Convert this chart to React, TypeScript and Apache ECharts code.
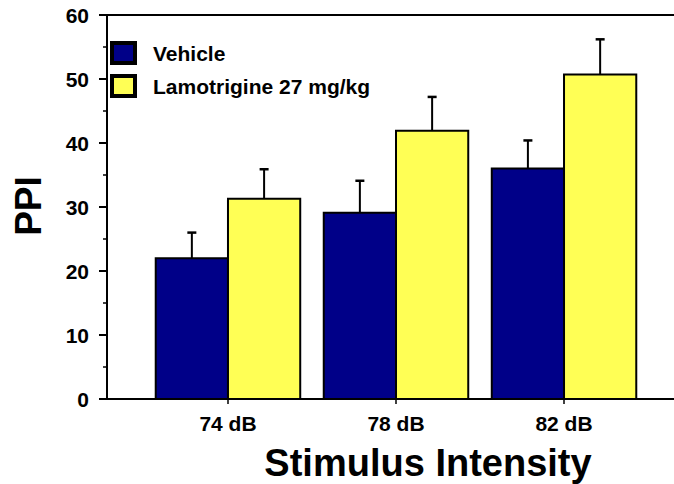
import React, { useEffect, useRef } from "react";
import * as echarts from "echarts";

const categories = ["74 dB", "78 dB", "82 dB"];
const seriesNames = ["Vehicle", "Lamotrigine 27 mg/kg"];
const vehicleMeans = [22, 29.1, 36];
const vehicleErrors = [4, 5, 4.4];
const lamotrigineMeans = [31.3, 41.9, 50.7];
const lamotrigineErrors = [4.6, 5.3, 5.5];
const yTicks = [0, 10, 20, 30, 40, 50, 60];

const FONT = "'Liberation Sans', Arial, sans-serif";
const COLORS = ["#000088", "#FFFF55"];
const BW = 0.43;

function makeRender(side: number) {
  return (params: any, api: any) => {
    const x = api.value(0);
    const v = api.value(1);
    const e = api.value(2);
    const x0 = side < 0 ? x - BW : x;
    const x1 = side < 0 ? x : x + BW;
    const pl = api.coord([x0, 0]);
    const pr = api.coord([x1, v]);
    const pe = api.coord([x, v + e]);
    const cx = (pl[0] + pr[0]) / 2;
    return {
      type: "group",
      children: [
        {
          type: "line",
          shape: { x1: cx, y1: pr[1], x2: cx, y2: pe[1] },
          style: { stroke: "#000", lineWidth: 2 },
        },
        {
          type: "line",
          shape: { x1: cx - 4.5, y1: pe[1], x2: cx + 4.5, y2: pe[1] },
          style: { stroke: "#000", lineWidth: 2.5 },
        },
        {
          type: "rect",
          shape: { x: pl[0], y: pr[1], width: pr[0] - pl[0], height: pl[1] - pr[1] },
          style: { fill: COLORS[side < 0 ? 0 : 1], stroke: "#000", lineWidth: 2 },
        },
      ],
    };
  };
}

export default function App() {
  const ref = useRef<HTMLDivElement>(null);
  useEffect(() => {
    const chart = echarts.init(ref.current!, null, { renderer: "svg" });
    const catPos = categories.map((_, i) => i + 1);
    chart.setOption({
      animation: false,
      backgroundColor: "#fff",
      grid: {
        left: 107,
        top: 15,
        width: 578,
        height: 384,
        show: true,
        containLabel: false,
        outerBoundsMode: "none",
        borderColor: "#000",
        borderWidth: 2,
        backgroundColor: "transparent",
      },
      xAxis: {
        type: "value",
        min: 0.28,
        max: 3.72,
        splitLine: { show: false },
        axisLine: { show: true, lineStyle: { color: "#000", width: 2 } },
        axisTick: {
          show: true,
          customValues: catPos,
          length: 5,
          lineStyle: { color: "#000", width: 1.5 },
        },
        axisLabel: {
          customValues: catPos,
          formatter: (v: number) => categories[Math.round(v) - 1] ?? "",
          margin: 14,
          color: "#000",
          fontFamily: FONT,
          fontWeight: "bold",
          fontSize: 21,
        },
      },
      yAxis: {
        type: "value",
        min: 0,
        max: 60,
        interval: 10,
        splitLine: { show: false },
        axisLine: { show: true, lineStyle: { color: "#000", width: 2 } },
        axisTick: { show: true, length: 8, lineStyle: { color: "#000", width: 2 } },
        minorTick: { show: true, splitNumber: 2, length: 4, lineStyle: { color: "#000", width: 1.5 } },
        axisLabel: {
          margin: 18,
          color: "#000",
          fontFamily: FONT,
          fontWeight: "bold",
          fontSize: 21,
          formatter: (v: number) => (yTicks.includes(v) ? String(v) : ""),
        },
      },
      series: [
        {
          name: seriesNames[0],
          type: "custom",
          renderItem: makeRender(-1),
          data: vehicleMeans.map((m, i) => [catPos[i], m, vehicleErrors[i]]),
          encode: { x: 0, y: [1, 2] },
        },
        {
          name: seriesNames[1],
          type: "custom",
          renderItem: makeRender(1),
          data: lamotrigineMeans.map((m, i) => [catPos[i], m, lamotrigineErrors[i]]),
          encode: { x: 0, y: [1, 2] },
        },
      ],
      graphic: [
        {
          type: "rect",
          shape: { x: 112, y: 43, width: 23, height: 20 },
          style: { fill: COLORS[0], stroke: "#000", lineWidth: 4 },
        },
        {
          type: "rect",
          shape: { x: 112, y: 76, width: 23, height: 20 },
          style: { fill: COLORS[1], stroke: "#000", lineWidth: 4 },
        },
        {
          type: "text",
          x: 153,
          y: 53,
          style: {
            text: seriesNames[0],
            fill: "#000",
            font: `bold 21px ${FONT}`,
            verticalAlign: "middle",
          },
        },
        {
          type: "text",
          x: 153,
          y: 86,
          style: {
            text: seriesNames[1],
            fill: "#000",
            font: `bold 21px ${FONT}`,
            verticalAlign: "middle",
          },
        },
        {
          type: "text",
          x: 428,
          y: 463,
          style: {
            text: "Stimulus Intensity",
            fill: "#000",
            font: `bold 38px ${FONT}`,
            align: "center",
            verticalAlign: "middle",
          },
        },
        {
          type: "text",
          x: 28,
          y: 206,
          rotation: Math.PI / 2,
          style: {
            text: "PPI",
            fill: "#000",
            font: `bold 37px ${FONT}`,
            align: "center",
            verticalAlign: "middle",
          },
        },
      ],
    });
    return () => chart.dispose();
  }, []);
  return <div ref={ref} style={{ width: 674, height: 484, position: "absolute", left: 0, top: 0 }} />;
}
